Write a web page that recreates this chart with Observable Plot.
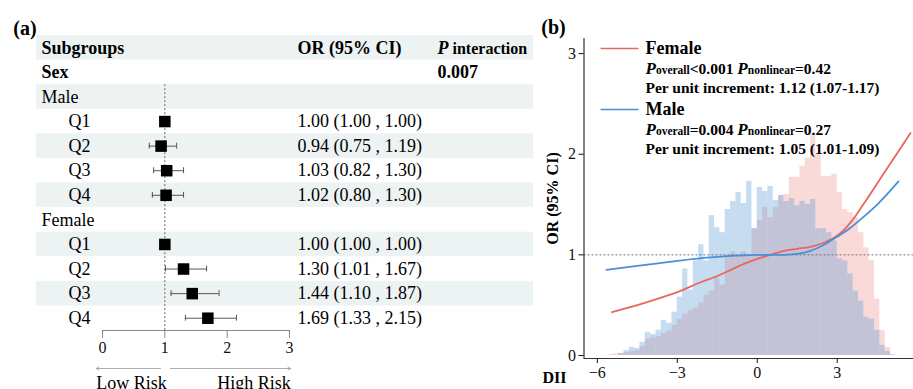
<!DOCTYPE html>
<html><head><meta charset="utf-8">
<script src="https://cdn.jsdelivr.net/npm/d3@7"></script>
<script src="https://cdn.jsdelivr.net/npm/@observablehq/plot@0.6"></script>
<style>
html,body{margin:0;padding:0;background:#fff;overflow:hidden;}
#wrap{position:relative;width:913px;height:389px;overflow:hidden;background:#fff;}
#wrap svg{position:absolute;top:0;}
</style></head><body><div id="wrap"></div>
<script>
// ---------- Panel (a) data ----------
const headers = ["Subgroups", "OR (95% CI)", "[i18]P|[16] interaction"];
const factorName = "Sex";
const pInteraction = "0.007";
const groupNames = ["Male", "Female"];
const quartiles = ["Q1", "Q2", "Q3", "Q4"];
const maleOR   = [1.00, 0.94, 1.03, 1.02];
const maleLow  = [1.00, 0.75, 0.82, 0.80];
const maleHigh = [1.00, 1.19, 1.30, 1.30];
const femaleOR   = [1.00, 1.30, 1.44, 1.69];
const femaleLow  = [1.00, 1.01, 1.10, 1.33];
const femaleHigh = [1.00, 1.67, 1.87, 2.15];
const forestTicks = [0, 1, 2, 3];
const riskLabels = ["Low Risk", "High Risk"];

// ---------- Panel (b) data ----------
const binStarts = [-5.6,-5.4,-5.2,-5.0,-4.8,-4.6,-4.4,-4.2,-4.0,-3.8,-3.6,-3.4,-3.2,-3.0,-2.8,-2.6,-2.4,-2.2,-2.0,-1.8,-1.6,-1.4,-1.2,-1.0,-0.8,-0.6,-0.4,-0.2,
                   0.0,0.2,0.4,0.6,0.8,1.0,1.2,1.4,1.6,1.8,2.0,2.2,2.4,2.6,2.8,3.0,3.2,3.4,3.6,3.8,4.0,4.2,4.4,4.6,4.8,5.0];
const binWidth = 0.2;
const maleHist = [0,0,0.02,0.05,0.08,0.07,0.13,0.23,0.21,0.25,0.35,0.32,0.43,0.58,0.86,0.65,0.94,1.10,0.94,1.39,1.27,1.22,1.45,1.53,1.62,1.51,1.73,1.26,
                  1.67,1.63,1.68,1.54,1.59,1.53,1.56,1.49,1.53,1.50,1.55,1.26,1.26,1.22,1.14,0.96,0.94,0.81,0.64,0.54,0.38,0.36,0.25,0.10,0.04,0.01];
const femaleHist = [0.01,0.02,0.02,0.03,0.04,0.05,0.09,0.16,0.18,0.19,0.22,0.24,0.30,0.36,0.41,0.45,0.47,0.52,0.60,0.64,0.77,0.70,0.97,1.03,1.00,1.03,1.00,1.26,
                    1.34,1.47,1.37,1.47,1.59,1.60,1.77,1.77,1.88,1.96,2.20,2.00,1.78,1.78,1.80,1.62,1.45,1.42,1.37,1.22,1.07,0.94,0.56,0.25,0.08,0];
const femaleCurveDII = [-5.45,-4.5,-3.9,-2.9,-2.2,-1.5,-1.0,-0.5,0.0,0.5,1.0,1.5,2.0,2.5,3.0,3.5,4.0,4.5,5.0,5.75];
const femaleCurveOR  = [0.43,0.50,0.55,0.64,0.72,0.79,0.85,0.91,0.96,1.00,1.04,1.06,1.08,1.12,1.19,1.32,1.51,1.71,1.91,2.21];
const maleCurveDII = [-5.66,-4.5,-3.0,-2.0,-1.0,0.0,1.0,1.5,2.0,2.5,3.0,3.5,4.0,4.5,5.0,5.3];
const maleCurveOR  = [0.85,0.89,0.94,0.97,0.99,1.00,1.00,1.01,1.04,1.10,1.18,1.27,1.38,1.50,1.64,1.73];
const xTicksB = [-6, -3, 0, 3, 6];
const yTicksB = [0, 1, 2, 3];
const legendNames = ["Female", "Male"];
const legendP = ["[i17]P|[11.5]overall|<0.001 |[i17]P|[11.5]nonlinear|=0.42",
                 "[i17]P|[11.5]overall|=0.004 |[i17]P|[11.5]nonlinear|=0.27"];
const legendInc = ["Per unit increment: 1.12 (1.07-1.17)", "Per unit increment: 1.05 (1.01-1.09)"];

// ---------- styles ----------
const serif = "'Liberation Serif','Times New Roman',serif";
const red = "#e8675c", blue = "#4a8fdc";
const bandFill = "#edf3f3";
const intFmt = d3.format("d");

// ---------- build rows ----------
const rows = [];
rows.push({label: headers[0], kind: "head", orText: headers[1], pText: headers[2]});
rows.push({label: factorName, kind: "head", pText: pInteraction});
const groups = [
  {name: groupNames[0], or: maleOR, lo: maleLow, hi: maleHigh},
  {name: groupNames[1], or: femaleOR, lo: femaleLow, hi: femaleHigh}
];
groups.forEach(g => {
  rows.push({label: g.name, kind: "group"});
  quartiles.forEach((q, j) => rows.push({
    label: q, kind: "item", or: g.or[j], lo: g.lo[j], hi: g.hi[j],
    orText: `${g.or[j].toFixed(2)} (${g.lo[j].toFixed(2)} , ${g.hi[j].toFixed(2)})`
  }));
});
rows.forEach((r, i) => r.i = i);
const nRows = rows.length;
const items = rows.filter(r => r.kind === "item");
const firstGroupRow = rows.find(r => r.kind === "group").i;
const xMin = forestTicks[0], xMax = forestTicks[forestTicks.length - 1];
const riskArrows = [{from: 1 - 0.07, to: xMin - 0.1}, {from: 1 + 0.09, to: xMax + 0.02}];

const txt = {fill: "#000", fontSize: 18, lineAnchor: "middle"};
const plotA = Plot.plot({
  width: 540, height: 389,
  marginTop: 35, marginBottom: 59, marginLeft: 36, marginRight: 7,
  style: {fontFamily: serif, background: "transparent", color: "#111"},
  x: {domain: [xMin, xMax], range: [102, 289]},
  y: {domain: [-0.5, nRows - 0.5], reverse: true, axis: null},
  marks: [
    Plot.rect(rows.filter(r => r.i % 2 === 0), {y1: r => r.i - 0.5, y2: r => r.i + 0.5, fill: bandFill}),
    Plot.ruleX([1], {y1: firstGroupRow - 0.5, y2: nRows - 0.5, stroke: "#555", strokeDasharray: "2,2", strokeWidth: 0.9}),
    Plot.ruleY([nRows - 0.5], {x1: xMin, x2: xMax, stroke: "#888"}),
    Plot.axisX({ticks: forestTicks, tickFormat: intFmt, tickSize: 8, tickPadding: 3, fontSize: 16, fontFamily: serif, stroke: "#888", fill: "#111", label: null}),
    Plot.ruleY(items, {y: "i", x1: "lo", x2: "hi", stroke: "#444", strokeWidth: 0.9}),
    Plot.ruleX(items, {x: "lo", y1: d => d.i - 0.12, y2: d => d.i + 0.12, stroke: "#444", strokeWidth: 0.9}),
    Plot.ruleX(items, {x: "hi", y1: d => d.i - 0.12, y2: d => d.i + 0.12, stroke: "#444", strokeWidth: 0.9}),
    Plot.dot(items, {x: "or", y: "i", symbol: "square", r: 6.5, fill: "#000"}),
    Plot.text(rows.filter(r => r.kind === "head"), {...txt, y: "i", text: "label", frameAnchor: "left", dx: 5, textAnchor: "start", fontWeight: "bold"}),
    Plot.text(rows.filter(r => r.kind === "group"), {...txt, y: "i", text: "label", frameAnchor: "left", dx: 5, textAnchor: "start"}),
    Plot.text(items, {...txt, y: "i", text: "label", frameAnchor: "left", dx: 32, textAnchor: "start"}),
    Plot.text(items, {...txt, y: "i", text: "orText", frameAnchor: "left", dx: 261, textAnchor: "start"}),
    Plot.text(rows.filter(r => r.kind === "head" && r.orText), {...txt, y: "i", text: "orText", frameAnchor: "left", dx: 261, textAnchor: "start", fontWeight: "bold"}),
    Plot.text(rows.filter(r => r.pText), {...txt, y: "i", text: "pText", frameAnchor: "left", dx: 401, textAnchor: "start", fontWeight: "bold"}),
    Plot.arrow(riskArrows, {x1: "from", x2: "to", y1: nRows - 0.5, y2: nRows - 0.5, dy: 38, stroke: "#999", strokeWidth: 0.8, headLength: 6}),
    Plot.text([riskLabels[0]], {...txt, x: riskArrows[0].to, y: nRows - 0.5, dy: 53, textAnchor: "start"}),
    Plot.text([riskLabels[1]], {...txt, x: riskArrows[1].to, y: nRows - 0.5, dy: 53, textAnchor: "end"}),
    Plot.text(["(a)"], {fill: "#000", fontSize: 20, fontWeight: "bold", frameAnchor: "top-left", lineAnchor: "middle", textAnchor: "middle", dx: -11.5, dy: -7})
  ]
});

// ---------- Panel (b) ----------
const maleBins = binStarts.map((x, k) => ({x0: x, x1: x + binWidth, h: maleHist[k]}));
const femaleBins = binStarts.map((x, k) => ({x0: x, x1: x + binWidth, h: femaleHist[k]}));
const femaleCurve = femaleCurveDII.map((x, k) => ({x, y: femaleCurveOR[k]}));
const maleCurve = maleCurveDII.map((x, k) => ({x, y: maleCurveOR[k]}));
const xDomB = [-6.5, 6.5], yDomB = [-0.03, 3.15];
const legendColors = [red, blue];
const lineSymbol = {draw(ctx) { ctx.moveTo(-19, 0); ctx.lineTo(19, 0); }};
const legendMarks = [];
const lt = {frameAnchor: "top-left", lineAnchor: "middle", textAnchor: "start", fontWeight: "bold", fill: "#000"};
legendNames.forEach((name, i) => {
  const off = i * 61;
  legendMarks.push(
    Plot.dot([name], {frameAnchor: "top-left", dx: 35.5, dy: 10 + off, symbol: lineSymbol, stroke: legendColors[i], strokeWidth: 1.6, r: 5}),
    Plot.text([name], {...lt, dx: 61.5, dy: 10 + off, fontSize: 18}),
    Plot.text([legendP[i]], {...lt, dx: 61.5, dy: 31 + off, fontSize: 15.5}),
    Plot.text([legendInc[i]], {...lt, dx: 61.5, dy: 49.5 + off, fontSize: 15.5})
  );
});

const plotB = Plot.plot({
  width: 400, height: 389,
  marginTop: 38, marginBottom: 31, marginLeft: 53.5, marginRight: 0,
  style: {fontFamily: serif, background: "transparent", color: "#111"},
  x: {domain: xDomB},
  y: {domain: yDomB},
  marks: [
    Plot.rectY(femaleBins, {x1: "x0", x2: "x1", y: "h", fill: "#f08080", fillOpacity: 0.3}),
    Plot.rectY(maleBins, {x1: "x0", x2: "x1", y: "h", fill: "#5b9bd5", fillOpacity: 0.35}),
    Plot.ruleY([1], {stroke: "#666", strokeDasharray: "2,2", strokeWidth: 0.9}),
    Plot.line(femaleCurve, {x: "x", y: "y", stroke: red, strokeWidth: 1.8, curve: "catmull-rom"}),
    Plot.line(maleCurve, {x: "x", y: "y", stroke: blue, strokeWidth: 1.8, curve: "catmull-rom"}),
    Plot.ruleX([xDomB[0]], {stroke: "#333", strokeWidth: 1.2}),
    Plot.ruleY([yDomB[0]], {stroke: "#333", strokeWidth: 1.2}),
    Plot.axisY({ticks: yTicksB, tickFormat: intFmt, tickSize: 5, tickPadding: 3, fontSize: 16, fontFamily: serif, label: null}),
    Plot.axisX({ticks: xTicksB, tickFormat: d => d < 0 ? "\u2212" + Math.abs(d) : String(d), tickSize: 5, tickPadding: 3, fontSize: 16, fontFamily: serif, label: null}),
    Plot.text(["OR (95% CI)"], {frameAnchor: "left", lineAnchor: "middle", textAnchor: "middle", rotate: -90, dx: -31, fontWeight: "bold", fontSize: 16, fill: "#000"}),
    Plot.text(["DII"], {frameAnchor: "bottom-left", lineAnchor: "middle", textAnchor: "middle", dx: -29.5, dy: 19, fontWeight: "bold", fontSize: 16, fill: "#000"}),
    Plot.text(["(b)"], {frameAnchor: "top-left", lineAnchor: "middle", textAnchor: "middle", dx: -30.5, dy: -11, fontWeight: "bold", fontSize: 20, fill: "#000"}),
    ...legendMarks
  ]
});

function richify(svg) {
  svg.querySelectorAll("text").forEach(t => {
    const s = t.textContent;
    if (!s.includes("[")) return;
    t.textContent = "";
    s.split("|").forEach(seg => {
      const m = seg.match(/^\[(i?)([\d.]*)\](.*)$/);
      const ts = document.createElementNS("http://www.w3.org/2000/svg", "tspan");
      let str = seg;
      if (m) {
        if (m[1]) ts.setAttribute("font-style", "italic");
        if (m[2]) ts.setAttribute("font-size", m[2]);
        str = m[3];
      }
      ts.textContent = str;
      t.appendChild(ts);
    });
  });
}
richify(plotA); richify(plotB);
plotA.style.left = "0px";
plotB.style.left = "530px";
const wrap = document.getElementById("wrap");
wrap.appendChild(plotA);
wrap.appendChild(plotB);
</script></body></html>
